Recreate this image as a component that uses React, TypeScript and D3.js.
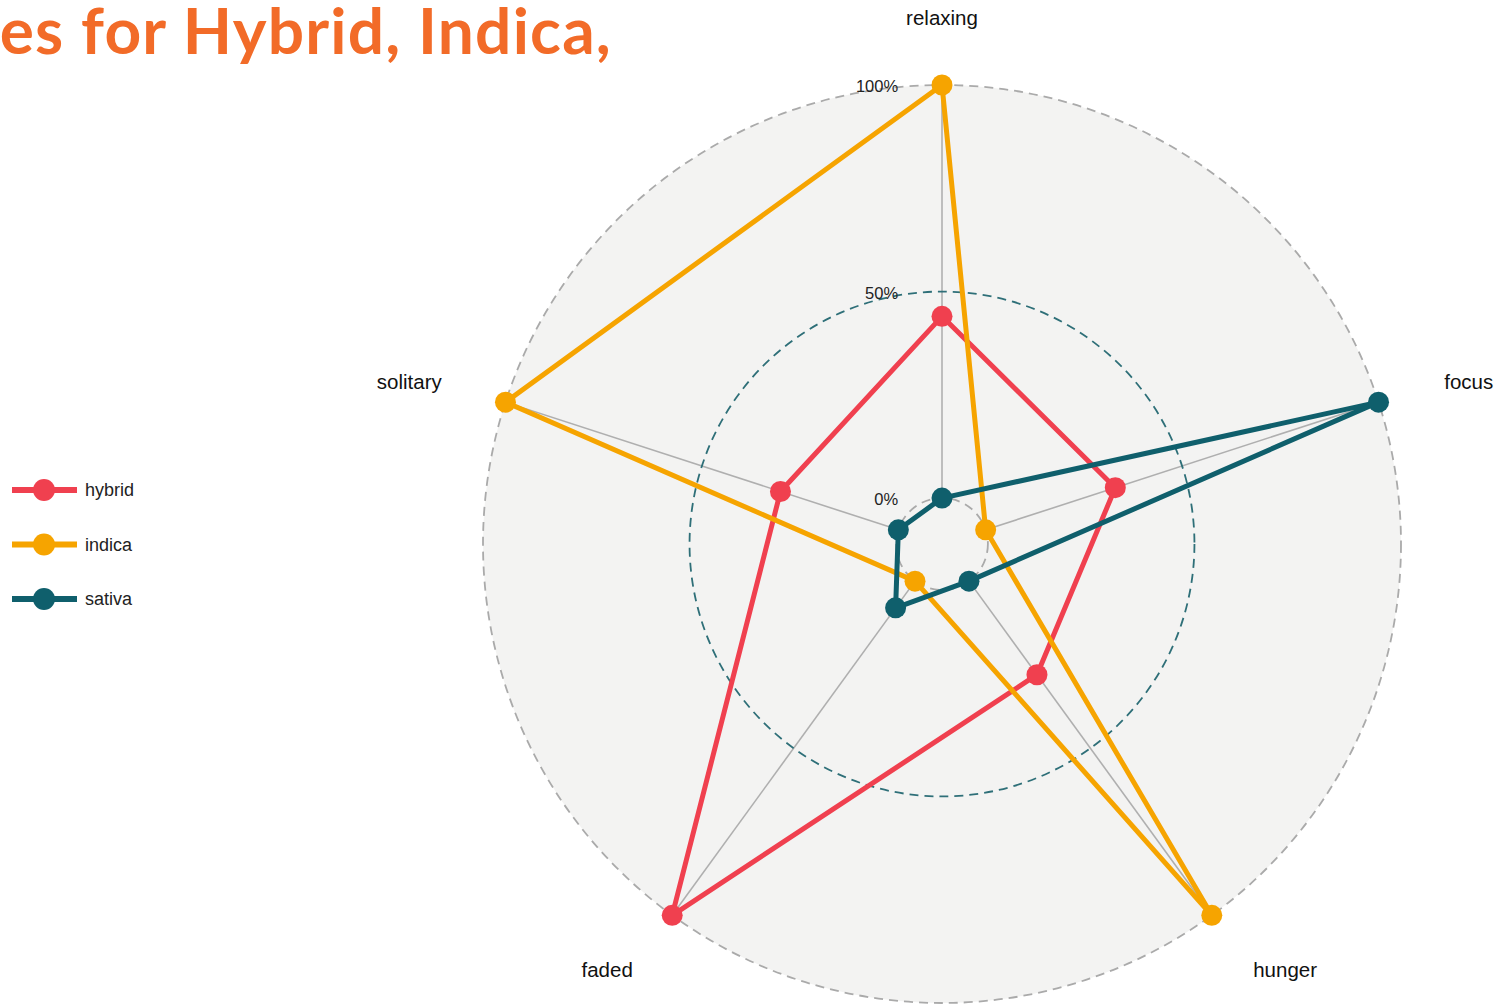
import React from "react";
import * as d3 from "d3";

// axes go clockwise from the top
const axes = ["relaxing", "focus", "hunger", "faded", "solitary"];
const seriesNames = ["hybrid", "indica", "sativa"];
const hybridValues = [0.44, 0.33, 0.28, 1.0, 0.3];
const indicaValues = [1.0, 0.0, 1.0, 0.0, 1.0];
const sativaValues = [0.0, 1.0, 0.0, 0.08, 0.0];
const gridValues = [0, 0.5, 1];
const gridLabels = ["0%", "50%", "100%"];

const colors = ["#F0404F", "#F6A400", "#0F5F6C"];

export default function App() {
  const width = 1507;
  const height = 1005;
  const cx = 942;
  const cy = 544;
  const R = 459;

  const series = [hybridValues, indicaValues, sativaValues];

  // ggradar style: 0% sits on a small inner circle, not at the centre
  const r = d3.scaleLinear().domain([0, 1]).range([R * 0.1, R]);
  const angle = d3
    .scaleLinear()
    .domain([0, axes.length])
    .range([0, 2 * Math.PI]);

  const pt = (i: number, v: number): [number, number] => {
    const a = angle(i);
    return [cx + r(v) * Math.sin(a), cy - r(v) * Math.cos(a)];
  };

  const line = d3
    .line<number>()
    .x((v, i) => pt(i, v)[0])
    .y((v, i) => pt(i, v)[1])
    .curve(d3.curveLinearClosed);

  const labelFont = "'Liberation Sans', Arial, sans-serif";
  const labelR = R * 1.146;

  const legendY = d3.scalePoint<string>().domain(seriesNames).range([490, 599]);

  return (
    <svg width={width} height={height} style={{ position: "absolute", left: 0, top: 0 }}>
      <rect width={width} height={height} fill="#ffffff" />

      {/* background disc */}
      <circle cx={cx} cy={cy} r={R} fill="#F3F3F2" />

      {/* axis spokes */}
      {axes.map((a, i) => {
        const [x1, y1] = pt(i, 0);
        const [x2, y2] = pt(i, 1);
        return <line key={a} x1={x1} y1={y1} x2={x2} y2={y2} stroke="#AFAFAF" strokeWidth={1.6} />;
      })}

      {/* grid circles */}
      {gridValues.map((g) => (
        <circle
          key={g}
          cx={cx}
          cy={cy}
          r={r(g)}
          fill="none"
          stroke={g === 0.5 ? "#2E6F78" : "#AAAAAA"}
          strokeWidth={1.8}
          strokeDasharray="9 6"
        />
      ))}

      {/* grid labels */}
      {gridValues.map((g, i) => (
        <text
          key={g}
          x={cx - r(0) + 2}
          y={cy - r(g) + 1}
          textAnchor="end"
          dominantBaseline="central"
          fontFamily={labelFont}
          fontSize={16.5}
          fill="#222"
        >
          {gridLabels[i]}
        </text>
      ))}

      {/* series */}
      {series.map((vals, s) => (
        <g key={seriesNames[s]}>
          <path d={line(vals) || ""} fill="none" stroke={colors[s]} strokeWidth={5} strokeLinejoin="round" />
          {vals.map((v, i) => {
            const [x, y] = pt(i, v);
            return <circle key={i} cx={x} cy={y} r={10.5} fill={colors[s]} />;
          })}
        </g>
      ))}

      {/* axis labels */}
      {axes.map((a, i) => {
        const ang = angle(i);
        const x = cx + labelR * Math.sin(ang);
        const y = cy - labelR * Math.cos(ang);
        const s = Math.sin(ang);
        const anchor = Math.abs(s) < 0.01 ? "middle" : s > 0 ? "start" : "end";
        return (
          <text
            key={a}
            x={x + (s > 0.01 ? 2 : 0)}
            y={y}
            textAnchor={anchor}
            dominantBaseline="central"
            fontFamily={labelFont}
            fontSize={20.5}
            fill="#111"
          >
            {a}
          </text>
        );
      })}

      {/* legend */}
      {seriesNames.map((n, s) => {
        const y = legendY(n) || 0;
        return (
          <g key={n}>
            <line x1={12} x2={77} y1={y} y2={y} stroke={colors[s]} strokeWidth={6} />
            <circle cx={44} cy={y} r={11} fill={colors[s]} />
            <text x={85} y={y} dominantBaseline="central" fontFamily={labelFont} fontSize={18} fill="#222">
              {n}
            </text>
          </g>
        );
      })}

      {/* title, cut off at the left edge as in the source */}
      <text
        x={612}
        y={54}
        textAnchor="end"
        fontFamily="Lato, 'Open Sans', sans-serif"
        fontWeight={700}
        fontSize={64}
        letterSpacing={1.2}
        fill="#F26B28"
      >
        es for Hybrid, Indica,
      </text>
    </svg>
  );
}
